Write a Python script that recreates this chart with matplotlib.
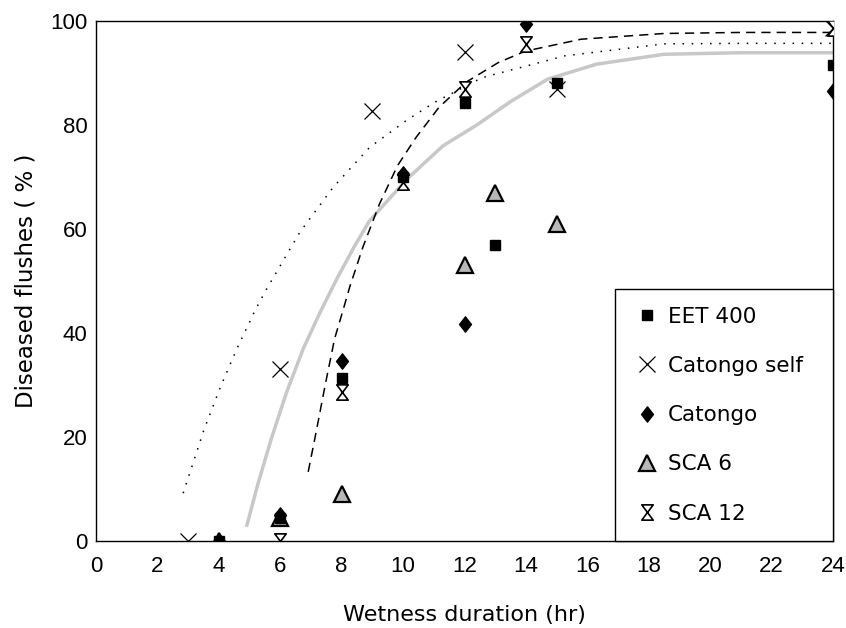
import matplotlib
matplotlib.use("Agg")
import matplotlib.pyplot as plt
from matplotlib.path import Path
from matplotlib.markers import MarkerStyle

plt.rcParams['font.family'] = ['DejaVu Sans']

# ---- data ----
eet400_x = [4, 6, 8, 10, 12, 13, 15, 24]
eet400_y = [0, 4.5, 31.3, 70, 84.3, 57, 88, 91.5]

catself_x = [3, 6, 9, 12, 15, 24]
catself_y = [0, 33, 82.7, 94, 87, 98.7]

catongo_x = [4, 6, 8, 10, 12, 14, 24]
catongo_y = [0, 5, 34.7, 70.5, 41.7, 99.5, 86.5]

sca6_x = [4, 6, 8, 12, 13, 15]
sca6_y = [0, 4.5, 9, 53, 67, 61]

sca12_x = [6, 8, 10, 12, 14, 24]
sca12_y = [0, 28.6, 69, 87, 95.5, 98.7]

# fitted curves
dotted_x = [2.84, 3.51, 4.05, 4.59, 5.21, 5.56, 6.64, 7.72, 8.91, 10.09, 11.01, 12.57, 15.27, 18.5, 21.0, 24.0]
dotted_y = [9.2, 21.3, 29.6, 37.0, 44.7, 48.5, 59.4, 68.0, 75.7, 80.8, 84.3, 89.1, 93.3, 95.6, 95.7, 95.7]

dashed_x = [6.91, 7.18, 7.45, 7.77, 8.04, 8.26, 8.69, 9.23, 9.82, 10.42, 11.17, 12.04, 13.1, 13.98, 15.8, 18.5, 21.0, 24.0]
dashed_y = [13.3, 21.3, 29.6, 38.9, 44.3, 48.8, 56.5, 64.8, 72.2, 77.6, 83.4, 88.2, 92.0, 94.2, 96.5, 97.6, 97.8, 97.8]

gray_x = [4.9, 5.25, 5.7, 6.2, 6.75, 7.3, 7.85, 8.4, 8.9, 9.5, 10.2, 11.3, 12.4, 13.5, 14.7, 16.3, 18.5, 21.0, 24.0]
gray_y = [2.7, 10.5, 19.5, 28.5, 37.0, 44.0, 50.5, 56.5, 61.5, 65.5, 70.0, 76.0, 80.0, 84.5, 88.8, 91.7, 93.6, 93.9, 93.9]

labels = ['EET 400', 'Catongo self', 'Catongo', 'SCA 6', 'SCA 12']
xticks = list(range(0, 25, 2))
yticks = list(range(0, 101, 20))

# ---- markers ----
diamond = MarkerStyle(Path([(0, 1), (0.78, 0), (0, -1), (-0.78, 0), (0, 1)],
                           [Path.MOVETO, Path.LINETO, Path.LINETO, Path.LINETO, Path.CLOSEPOLY]))
hourglass = MarkerStyle(Path([(-0.75, 1), (0.75, 1), (-0.75, -1), (0.75, -1), (-0.75, 1)],
                             [Path.MOVETO, Path.LINETO, Path.LINETO, Path.LINETO, Path.CLOSEPOLY]))

fig = plt.figure(figsize=(8.46, 6.28), dpi=100)
ax = fig.add_axes([96 / 846, 1 - 541 / 628, (833 - 96) / 846, (541 - 21) / 628])

ax.plot(gray_x, gray_y, color='#c8c8c8', lw=2.5, solid_capstyle='butt', zorder=1)
ax.plot(dotted_x, dotted_y, color='black', lw=1.1, linestyle=(0, (1, 5)), zorder=2)
ax.plot(dashed_x, dashed_y, color='black', lw=1.1, linestyle=(0, (6, 4)), zorder=2)

h1, = ax.plot(eet400_x, eet400_y, 's', ms=7.5, color='black', linestyle='none', zorder=5)
h2, = ax.plot(catself_x, catself_y, 'x', ms=12, mew=0.9, color='black', linestyle='none', zorder=5)
h3, = ax.plot(catongo_x, catongo_y, marker=diamond, ms=11, color='black', linestyle='none', zorder=5)
h4, = ax.plot(sca6_x, sca6_y, '^', ms=11, mfc='#b8b8b8', mec='black', mew=1.6, linestyle='none', zorder=4)
h5, = ax.plot(sca12_x, sca12_y, marker=hourglass, ms=11, mfc='white', mec='black', mew=1.2,
              linestyle='none', zorder=4)

ax.set_xlim(0, 24)
ax.set_ylim(0, 100)
ax.set_xticks(xticks)
ax.set_xticklabels([str(t) for t in xticks], family=['Liberation Sans', 'DejaVu Sans'])
ax.set_yticks(yticks)
ax.set_yticklabels([str(t) for t in yticks], family=['Liberation Sans', 'DejaVu Sans'])
ax.tick_params(axis='both', length=0, labelsize=16)
ax.tick_params(axis='x', pad=11)
ax.tick_params(axis='y', pad=6)
for s in ax.spines.values():
    s.set_linewidth(1.0)
    s.set_color('black')

ax.set_xlabel('Wetness duration (hr)', fontsize=16, labelpad=20)
ax.set_ylabel('Diseased flushes ( % )', fontsize=16.5, labelpad=9)

leg = ax.legend([h1, h2, h3, h4, h5], labels, loc='lower left',
                bbox_to_anchor=(0.704, 0, 0.296, 0.5), mode='expand',
                fontsize=15.5, frameon=True, fancybox=False, framealpha=1,
                edgecolor='black', borderaxespad=0, borderpad=0.8,
                handlelength=1.4, handletextpad=0.27, labelspacing=1.36, numpoints=1)
leg.get_frame().set_linewidth(1.0)
leg.set_zorder(3)

fig.savefig('out.png', dpi=100)
